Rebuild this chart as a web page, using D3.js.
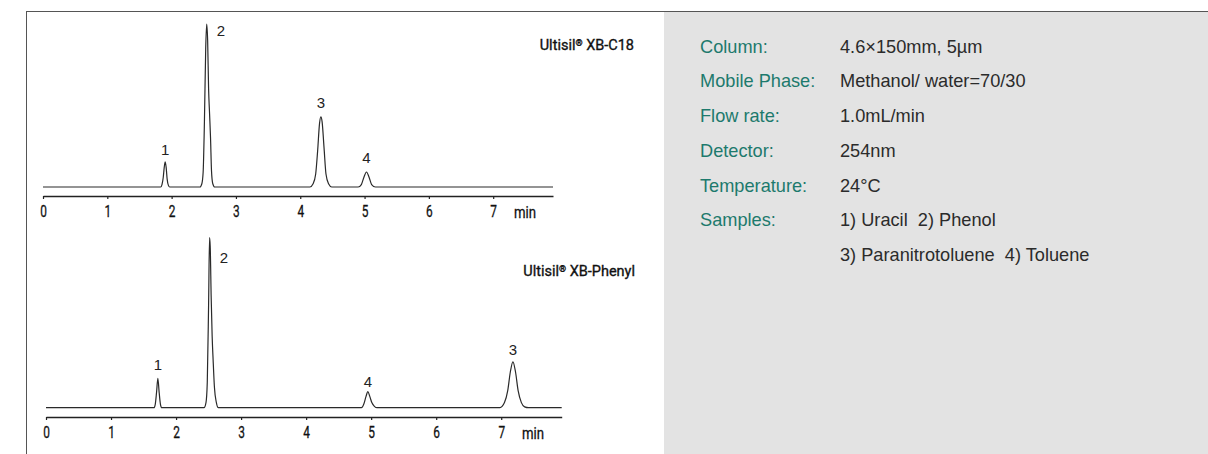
<!DOCTYPE html>
<html><head><meta charset="utf-8">
<script src="https://cdn.jsdelivr.net/npm/d3@7"></script>
<style>html,body{margin:0;padding:0;background:#fff;}svg{display:block;}</style>
</head><body>
<svg id="c" width="1208" height="454"></svg>
<script>
// ---- data ----
const tickValues = [0, 1, 2, 3, 4, 5, 6, 7];
const axisUnit = "min";

const c18Name = "Ultisil";
const c18Suffix = " XB-C18";
const c18Time   = [0, 1.83, 1.85, 1.87, 1.885, 1.90, 1.915, 1.93, 1.95, 1.97, 2.44, 2.47, 2.49, 2.51, 2.53, 2.545, 2.56, 2.575, 2.59, 2.605, 2.62, 2.64, 2.67, 4.15, 4.20, 4.24, 4.27, 4.30, 4.32, 4.34, 4.37, 4.40, 4.44, 4.49, 4.90, 4.95, 4.99, 5.03, 5.07, 5.11, 5.17, 7.93];
const c18Signal = [0, 0, 1.5, 6, 12, 15.5, 12, 5, 1, 0, 0, 2, 9, 40, 85, 100, 90, 60, 45, 30, 10, 2, 0, 0, 2, 8, 22, 39, 43, 40, 24, 8, 2, 0, 0, 1.5, 6, 9.2, 6, 1.5, 0, 0];
const c18PeakIds  = ["1", "2", "3", "4"];
const c18PeakTime = [1.90, 2.55, 4.32, 5.03];
const c18PeakSig  = [15.5, 100, 43, 9.2];

const phName = "Ultisil";
const phSuffix = " XB-Phenyl";
const phTime   = [0, 1.66, 1.68, 1.70, 1.72, 1.74, 1.76, 1.78, 2.43, 2.46, 2.48, 2.50, 2.515, 2.525, 2.54, 2.555, 2.57, 2.59, 2.62, 2.65, 4.85, 4.89, 4.92, 4.95, 4.98, 5.01, 5.05, 5.09, 6.98, 7.05, 7.10, 7.14, 7.18, 7.22, 7.26, 7.31, 7.36, 7.42, 7.93];
const phSignal = [0, 0, 2, 9, 17.3, 9, 2, 0, 0, 3, 15, 60, 100, 95, 65, 42, 28, 12, 3, 0, 0, 2.5, 6.5, 9.4, 6.5, 3, 0.8, 0, 0, 3, 10, 21, 27, 21, 10, 3, 0.5, 0, 0];
const phPeakIds  = ["1", "2", "4", "3"];
const phPeakTime = [1.72, 2.52, 4.95, 7.18];
const phPeakSig  = [17.3, 100, 9.4, 27];

const condLabels = ["Column:", "Mobile Phase:", "Flow rate:", "Detector:", "Temperature:", "Samples:", ""];
const condValues = ["4.6×150mm, 5µm", "Methanol/ water=70/30", "1.0mL/min", "254nm", "24°C", "1) Uracil  2) Phenol", "3) Paranitrotoluene  4) Toluene"];

// ---- drawing ----
const svg = d3.select("#c");
const axisFont = "Roboto,sans-serif";

// grey panel and frame
svg.append("rect").attr("x", 664).attr("y", 12).attr("width", 544).attr("height", 442).attr("fill", "#e3e3e3");
svg.append("line").attr("x1", 26).attr("x2", 1208).attr("y1", 11.5).attr("y2", 11.5).attr("stroke", "#555").attr("stroke-width", 1);
svg.append("line").attr("x1", 26.5).attr("x2", 26.5).attr("y1", 11).attr("y2", 454).attr("stroke", "#555").attr("stroke-width", 1);

function chrom(cfg) {
  const x = d3.scaleLinear().domain([0, 7.93]).range([cfg.x0, cfg.x1]);
  const y = d3.scaleLinear().domain([0, 100]).range([cfg.base, cfg.top]);
  const g = svg.append("g");
  const pts = cfg.time.map((t, i) => [t, cfg.sig[i]]);
  g.append("path").datum(pts)
    .attr("d", d3.line().x(d => x(d[0])).y(d => y(d[1])).curve(d3.curveMonotoneX))
    .attr("fill", "none").attr("stroke", "#2a2a2a").attr("stroke-width", 1.2).attr("stroke-linejoin", "round");
  const ax = g.append("g").attr("transform", `translate(0,${cfg.axisY})`)
    .call(d3.axisBottom(x).tickValues(tickValues).tickSize(3).tickSizeOuter(0).tickPadding(6).tickFormat(d3.format("d")));
  ax.select(".domain").attr("stroke", "#222").attr("stroke-width", 1.5);
  ax.selectAll(".tick line").attr("stroke", "#222").attr("stroke-width", 1.2);
  ax.selectAll(".tick text").attr("font-family", axisFont).attr("font-size", 16.5).attr("fill", "#111")
    .attr("stroke", "#111").attr("stroke-width", 0.3)
    .attr("transform", "scale(0.72,1)");
  g.append("text").attr("transform", `translate(${cfg.minX},${cfg.axisY + 22}) scale(0.8,1)`).attr("text-anchor", "middle")
    .attr("font-family", axisFont).attr("font-size", 16.5).attr("fill", "#111")
    .attr("stroke", "#111").attr("stroke-width", 0.3).text(axisUnit);
  cfg.ids.forEach((id, i) => {
    g.append("text").attr("x", x(cfg.pt[i]) + cfg.dx[i]).attr("y", y(cfg.ps[i]) + cfg.dy[i])
      .attr("text-anchor", "middle").attr("font-family", "'Liberation Sans',Arial,sans-serif")
      .attr("font-size", 15).attr("fill", "#222").text(id);
  });
  const nt = g.append("text").attr("x", cfg.nameX).attr("y", cfg.nameY).attr("text-anchor", "end")
    .attr("font-family", "Roboto,sans-serif").attr("font-size", 14.5).attr("fill", "#111")
    .attr("stroke", "#111").attr("stroke-width", 0.35);
  nt.append("tspan").text(cfg.name);
  nt.append("tspan").attr("font-size", 9).attr("dy", -4).text("®");
  nt.append("tspan").attr("dy", 4).text(cfg.suffix);
}

chrom({x0: 43, x1: 553, base: 187, top: 24, axisY: 196, minX: 525,
  time: c18Time, sig: c18Signal, ids: c18PeakIds, pt: c18PeakTime, ps: c18PeakSig,
  dx: [0, 14, 0, 0], dy: [-7, 12, -9, -9], name: c18Name, suffix: c18Suffix, nameX: 634, nameY: 50});
chrom({x0: 46, x1: 561.7, base: 407.7, top: 237.7, axisY: 417, minX: 533,
  time: phTime, sig: phSignal, ids: phPeakIds, pt: phPeakTime, ps: phPeakSig,
  dx: [0, 14, 0, 0], dy: [-8, 25, -5, -7], name: phName, suffix: phSuffix, nameX: 635, nameY: 276});

// conditions panel
const rowY = d3.range(condLabels.length).map(i => 52.7 + i * 34.7);
condLabels.forEach((t, i) => {
  svg.append("text").attr("x", 700).attr("y", rowY[i]).attr("font-family", "'Liberation Sans',Arial,sans-serif")
    .attr("font-size", 18.2).attr("fill", "#1d7a6d").text(t);
  svg.append("text").attr("x", 840).attr("y", rowY[i]).attr("font-family", "'Liberation Sans',Arial,sans-serif")
    .attr("font-size", 18.2).attr("fill", "#2b2b2b").style("white-space", "pre").text(condValues[i]);
});
</script>
</body></html>
